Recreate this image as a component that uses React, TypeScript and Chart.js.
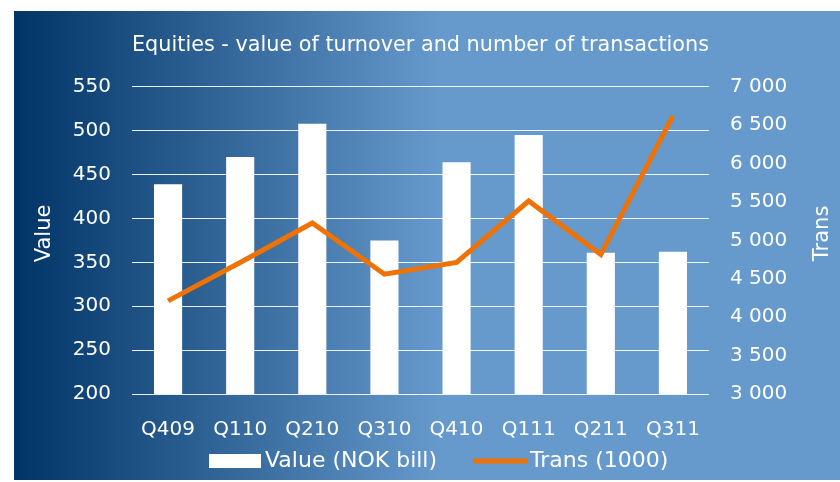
import React, { useEffect, useRef } from "react";
import { Chart, registerables } from "chart.js";

Chart.register(...registerables);

const categories = ["Q409", "Q110", "Q210", "Q310", "Q410", "Q111", "Q211", "Q311"];
const valueNokBill = [439, 470, 508, 375, 464, 495, 361, 362];
const trans1000 = [4213, 4712, 5227, 4560, 4712, 5513, 4816, 6622];
const leftTicks = { min: 200, max: 550, step: 50 };
const rightTicks = { min: 3000, max: 7000, step: 500 };
const leftTitle = "Value";
const rightTitle = "Trans";

const FONT = "'DejaVu Sans', Verdana, sans-serif";
const ORANGE = "#EE7204";

const fmt = (v: number) => String(v).replace(/\B(?=(\d{3})+(?!\d))/g, " ");

const bgPlugin = {
  id: "bg",
  beforeDraw(chart: any) {
    const { ctx, width, height } = chart;
    ctx.save();
    ctx.fillStyle = "#ffffff";
    ctx.fillRect(0, 0, width, height);
    const g = ctx.createLinearGradient(14, 0, 440, 0);
    g.addColorStop(0, "#003366");
    g.addColorStop(1, "#6699CC");
    ctx.fillStyle = g;
    ctx.fillRect(14, 11, width - 14, height - 13);
    ctx.restore();
  },
};

const extrasPlugin = {
  id: "extras",
  afterDraw(chart: any) {
    const { ctx, chartArea } = chart;
    const midY = (chartArea.top + chartArea.bottom) / 2 - 7;
    ctx.save();
    ctx.fillStyle = "#ffffff";
    ctx.font = `21px ${FONT}`;
    ctx.textAlign = "center";
    ctx.textBaseline = "middle";
    // axis titles
    ctx.save();
    ctx.translate(45, midY);
    ctx.rotate(-Math.PI / 2);
    ctx.fillText(leftTitle, 0, 0);
    ctx.restore();
    ctx.save();
    ctx.translate(823, midY);
    ctx.rotate(-Math.PI / 2);
    ctx.fillText(rightTitle, 0, 0);
    ctx.restore();

    // legend
    const ds = chart.data.datasets;
    const yc = 461;
    ctx.font = `22px ${FONT}`;
    ctx.textAlign = "left";
    let x = 209;
    ctx.fillStyle = "#ffffff";
    ctx.fillRect(x, yc - 7, 52, 14);
    x += 56;
    ctx.fillText(ds[0].label, x, yc);
    x += ctx.measureText(ds[0].label).width + 36;
    ctx.strokeStyle = ORANGE;
    ctx.lineWidth = 5;
    ctx.beginPath();
    ctx.moveTo(x, yc);
    ctx.lineTo(x + 55, yc);
    ctx.stroke();
    x += 57;
    ctx.fillStyle = "#ffffff";
    ctx.fillText(ds[1].label, x, yc);
    ctx.restore();
  },
};

export default function App() {
  const ref = useRef<HTMLCanvasElement | null>(null);
  useEffect(() => {
    if (!ref.current) return;
    const chart = new Chart(ref.current, {
      type: "bar",
      data: {
        labels: categories,
        datasets: [
          {
            type: "bar",
            label: "Value (NOK bill)",
            data: valueNokBill,
            backgroundColor: "#ffffff",
            borderWidth: 0,
            barPercentage: 0.39,
            categoryPercentage: 1,
            yAxisID: "y",
            order: 2,
          },
          {
            type: "line",
            label: "Trans (1000)",
            data: trans1000,
            borderColor: ORANGE,
            backgroundColor: ORANGE,
            borderWidth: 5,
            pointRadius: 0,
            tension: 0,
            yAxisID: "y1",
            order: 1,
          } as any,
        ],
      },
      options: {
        responsive: false,
        animation: false,
        layout: { padding: { left: 14, top: 11, right: 0, bottom: 2 } },
        plugins: {
          legend: { display: false },
          tooltip: { enabled: false },
          title: {
            display: true,
            fullSize: false,
            text: "Equities - value of turnover and number of transactions",
            color: "#ffffff",
            font: { family: FONT, size: 21.5, weight: "normal" },
            padding: { top: 22, bottom: 28 },
          },
        },
        scales: {
          x: {
            grid: { display: false },
            border: { display: false },
            ticks: { color: "#ffffff", font: { family: FONT, size: 20 }, padding: 16, maxRotation: 0 },
            afterFit(scale: any) {
              scale.height = 86;
            },
          },
          y: {
            position: "left",
            min: leftTicks.min,
            max: leftTicks.max,
            ticks: { stepSize: leftTicks.step, color: "#ffffff", font: { family: FONT, size: 20 }, padding: 21 },
            grid: { color: "rgba(255,255,255,0.9)", lineWidth: 1, drawTicks: false },
            border: { display: false },
            afterFit(scale: any) {
              scale.width = 118;
            },
          },
          y1: {
            position: "right",
            min: rightTicks.min,
            max: rightTicks.max,
            ticks: {
              stepSize: rightTicks.step,
              color: "#ffffff",
              font: { family: FONT, size: 20 },
              padding: 21,
              callback: (v: any) => fmt(Number(v)),
            },
            grid: { display: false, drawTicks: false },
            border: { display: false },
            afterFit(scale: any) {
              scale.width = 131;
            },
          },
        },
      },
      plugins: [bgPlugin, extrasPlugin],
    });
    return () => chart.destroy();
  }, []);
  return (
    <div style={{ position: "absolute", left: 0, top: 0, width: 840, height: 482 }}>
      <canvas ref={ref} width={840} height={482} style={{ display: "block", width: 840, height: 482 }} />
    </div>
  );
}
